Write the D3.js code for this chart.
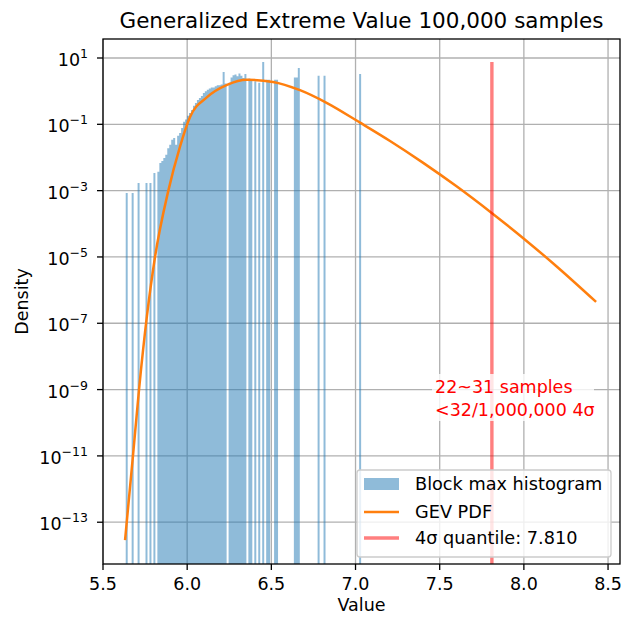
<!DOCTYPE html>
<html>
<head>
<meta charset="utf-8">
<script src="https://cdn.jsdelivr.net/npm/d3@7"></script>
<style>
  html, body { margin: 0; padding: 0; background: #fff; }
  svg text { font-family: "DejaVu Sans", sans-serif; }
</style>
</head>
<body>
<svg id="chart" width="623" height="619"></svg>
<script>
// histogram: density per bin, bins span histRange evenly (0 = empty bin)
var histRange = [5.635, 7.045];
var histDensity = [
  8.5e-4, 0, 0, 8.5e-4, 0, 0, 1.7e-3, 0, 0, 0,
  1.7e-3, 0, 1.7e-3, 0, 3.4e-3, 0, 0.0037, 0.0068, 0.0078, 0.0096,
  0.012, 0.019, 0.024, 0.034, 0.039, 0.024, 0.045, 0.055, 0.078, 0.12,
  0.14, 0.18, 0.22, 0.27, 0.36, 0.44, 0.54, 0.62, 0.72, 0.88,
  1.0, 1.1, 1.2, 1.3, 1.3, 1.4, 1.5, 1.5, 1.6, 3.8,
  1.7, 0, 1.8, 2.6, 3.0, 3.2, 2.8, 3.4, 2.9, 2.5,
  3.3, 0, 2.4, 2.1, 0, 2.0, 0, 1.8, 0, 7.6,
  0, 2.2, 2.2, 0, 0, 2.2, 2.2, 0, 0, 0,
  0, 0, 0, 0, 0, 2.6, 2.6, 5.0, 0, 0,
  0, 0, 0, 0, 0, 0, 0, 2.9, 0, 0,
  2.9, 0, 0, 0, 0, 0, 0, 0, 0, 0,
  0, 0, 0, 0, 0, 0, 0, 0, 3.3, 0
];

// GEV pdf
var pdfX = [5.631, 5.678, 5.714, 5.761, 5.809, 5.886, 5.957, 6.017, 6.118, 6.237,
            6.355, 6.510, 6.670, 6.831, 7.027, 7.205, 7.400, 7.600, 7.805, 8.000,
            8.200, 8.429];
var pdfY = [2.9e-14, 1.0e-11, 1.0e-9, 1.66e-7, 1.0e-5, 9e-4, 0.021, 0.166, 0.66, 1.55,
            2.2, 1.9, 1.07, 0.437, 0.112, 0.0314, 0.0070, 0.00135, 2.2e-4, 3.56e-5,
            4.9e-6, 4.4e-7];

var quantile4s = 7.810;
var xTicks = [5.5, 6.0, 6.5, 7.0, 7.5, 8.0, 8.5];
var yTickExps = [1, -1, -3, -5, -7, -9, -11, -13];
var legendLabels = ["Block max histogram", "GEV PDF", "4\u03c3 quantile: 7.810"];
var noteLines = ["22~31 samples", "<32/1,000,000 4\u03c3"];

var margin = {left: 103, right: 3, top: 39, bottom: 55};
var W = 623, H = 619;
var svg = d3.select('#chart');

var x = d3.scaleLinear().domain([5.5, 8.571]).range([margin.left, W - margin.right]);
var y = d3.scaleLog().domain([Math.pow(10, -14.26), Math.pow(10, 1.573)]).range([H - margin.bottom, margin.top]);

var x0 = margin.left, x1 = W - margin.right, y0 = H - margin.bottom, y1 = margin.top;

// grid
var grid = svg.append('g').attr('stroke', '#b0b0b0').attr('stroke-width', 1.3);
xTicks.forEach(function (t) {
  grid.append('line').attr('x1', x(t)).attr('x2', x(t)).attr('y1', y0).attr('y2', y1);
});
yTickExps.forEach(function (e) {
  grid.append('line').attr('x1', x0).attr('x2', x1).attr('y1', y(Math.pow(10, e))).attr('y2', y(Math.pow(10, e)));
});

var plot = svg.append('g');
svg.append('clipPath').attr('id', 'clip').append('rect')
  .attr('x', x0).attr('y', y1).attr('width', x1 - x0).attr('height', y0 - y1);
plot.attr('clip-path', 'url(#clip)');

// histogram bars, one path so neighbouring bars don't leave seams
var bw = (histRange[1] - histRange[0]) / histDensity.length;
var barPath = d3.path();
histDensity.forEach(function (d, i) {
  if (d <= 0) return;
  var a = x(histRange[0] + i * bw), b = x(histRange[0] + (i + 1) * bw);
  barPath.rect(a, y(d), b - a, y0 - y(d));
});
plot.append('path').attr('d', barPath.toString())
  .attr('fill', '#1f77b4').attr('fill-opacity', 0.5);

// pdf
var pts = pdfX.map(function (v, i) { return [v, pdfY[i]]; });
var line = d3.line().x(function (p) { return x(p[0]); }).y(function (p) { return y(p[1]); })
  .curve(d3.curveMonotoneX);
plot.append('path').attr('d', line(pts)).attr('fill', 'none')
  .attr('stroke', '#ff7f0e').attr('stroke-width', 2.5);

// quantile line
var histMax = d3.max(histDensity);
plot.append('line').attr('x1', x(quantile4s)).attr('x2', x(quantile4s))
  .attr('y1', y(histMax)).attr('y2', y0)
  .attr('stroke', 'red').attr('stroke-opacity', 0.5).attr('stroke-width', 3.4);

// note
var note = svg.append('g');
note.append('rect').attr('x', 432).attr('y', 374).attr('width', 162).attr('height', 47)
  .attr('fill', '#fff').attr('fill-opacity', 0.8);
noteLines.forEach(function (s, i) {
  note.append('text').attr('x', 435).attr('y', 393 + i * 23).attr('font-size', 17.5)
    .attr('fill', 'red').text(s);
});

// spines
svg.append('rect').attr('x', x0).attr('y', y1).attr('width', x1 - x0).attr('height', y0 - y1)
  .attr('fill', 'none').attr('stroke', '#000').attr('stroke-width', 1.3);

// x axis ticks
var xa = svg.append('g');
xTicks.forEach(function (t) {
  xa.append('line').attr('x1', x(t)).attr('x2', x(t)).attr('y1', y0).attr('y2', y0 + 6)
    .attr('stroke', '#000').attr('stroke-width', 1.3);
  xa.append('text').attr('x', x(t)).attr('y', y0 + 26).attr('text-anchor', 'middle')
    .attr('font-size', 17.5).attr('fill', '#000').text(t.toFixed(1));
});

// y axis ticks
var ya = svg.append('g');
yTickExps.forEach(function (e) {
  var yy = y(Math.pow(10, e));
  ya.append('line').attr('x1', x0 - 6).attr('x2', x0).attr('y1', yy).attr('y2', yy)
    .attr('stroke', '#000').attr('stroke-width', 1.3);
  var t = ya.append('text').attr('x', x0 - 15).attr('y', yy + 8).attr('text-anchor', 'end')
    .attr('font-size', 17.5).attr('fill', '#000');
  t.append('tspan').text('10');
  t.append('tspan').attr('dy', -8).attr('font-size', 12.5).text(e < 0 ? '\u2212' + (-e) : String(e));
});

// labels
svg.append('text').attr('x', (x0 + x1) / 2).attr('y', 28).attr('text-anchor', 'middle')
  .attr('font-size', 21.5).text('Generalized Extreme Value 100,000 samples');
svg.append('text').attr('x', (x0 + x1) / 2).attr('y', 611).attr('text-anchor', 'middle')
  .attr('font-size', 17.5).text('Value');
svg.append('text').attr('transform', 'translate(28,' + (y0 + y1) / 2 + ') rotate(-90)')
  .attr('text-anchor', 'middle').attr('font-size', 17.5).text('Density');

// legend
var lg = svg.append('g');
lg.append('rect').attr('x', 357).attr('y', 470).attr('width', 254).attr('height', 87)
  .attr('rx', 3).attr('fill', '#fff').attr('fill-opacity', 0.8)
  .attr('stroke', '#cccccc').attr('stroke-width', 1.3);
var rowY = [484, 512, 538];
lg.append('rect').attr('x', 364).attr('y', rowY[0] - 6).attr('width', 35).attr('height', 12)
  .attr('fill', '#1f77b4').attr('fill-opacity', 0.5);
lg.append('line').attr('x1', 364).attr('x2', 399).attr('y1', rowY[1]).attr('y2', rowY[1])
  .attr('stroke', '#ff7f0e').attr('stroke-width', 2.5);
lg.append('line').attr('x1', 364).attr('x2', 399).attr('y1', rowY[2]).attr('y2', rowY[2])
  .attr('stroke', 'red').attr('stroke-opacity', 0.5).attr('stroke-width', 3.4);
legendLabels.forEach(function (s, i) {
  lg.append('text').attr('x', 415).attr('y', rowY[i] + 6).attr('font-size', 17.7).text(s);
});
</script>
</body>
</html>
